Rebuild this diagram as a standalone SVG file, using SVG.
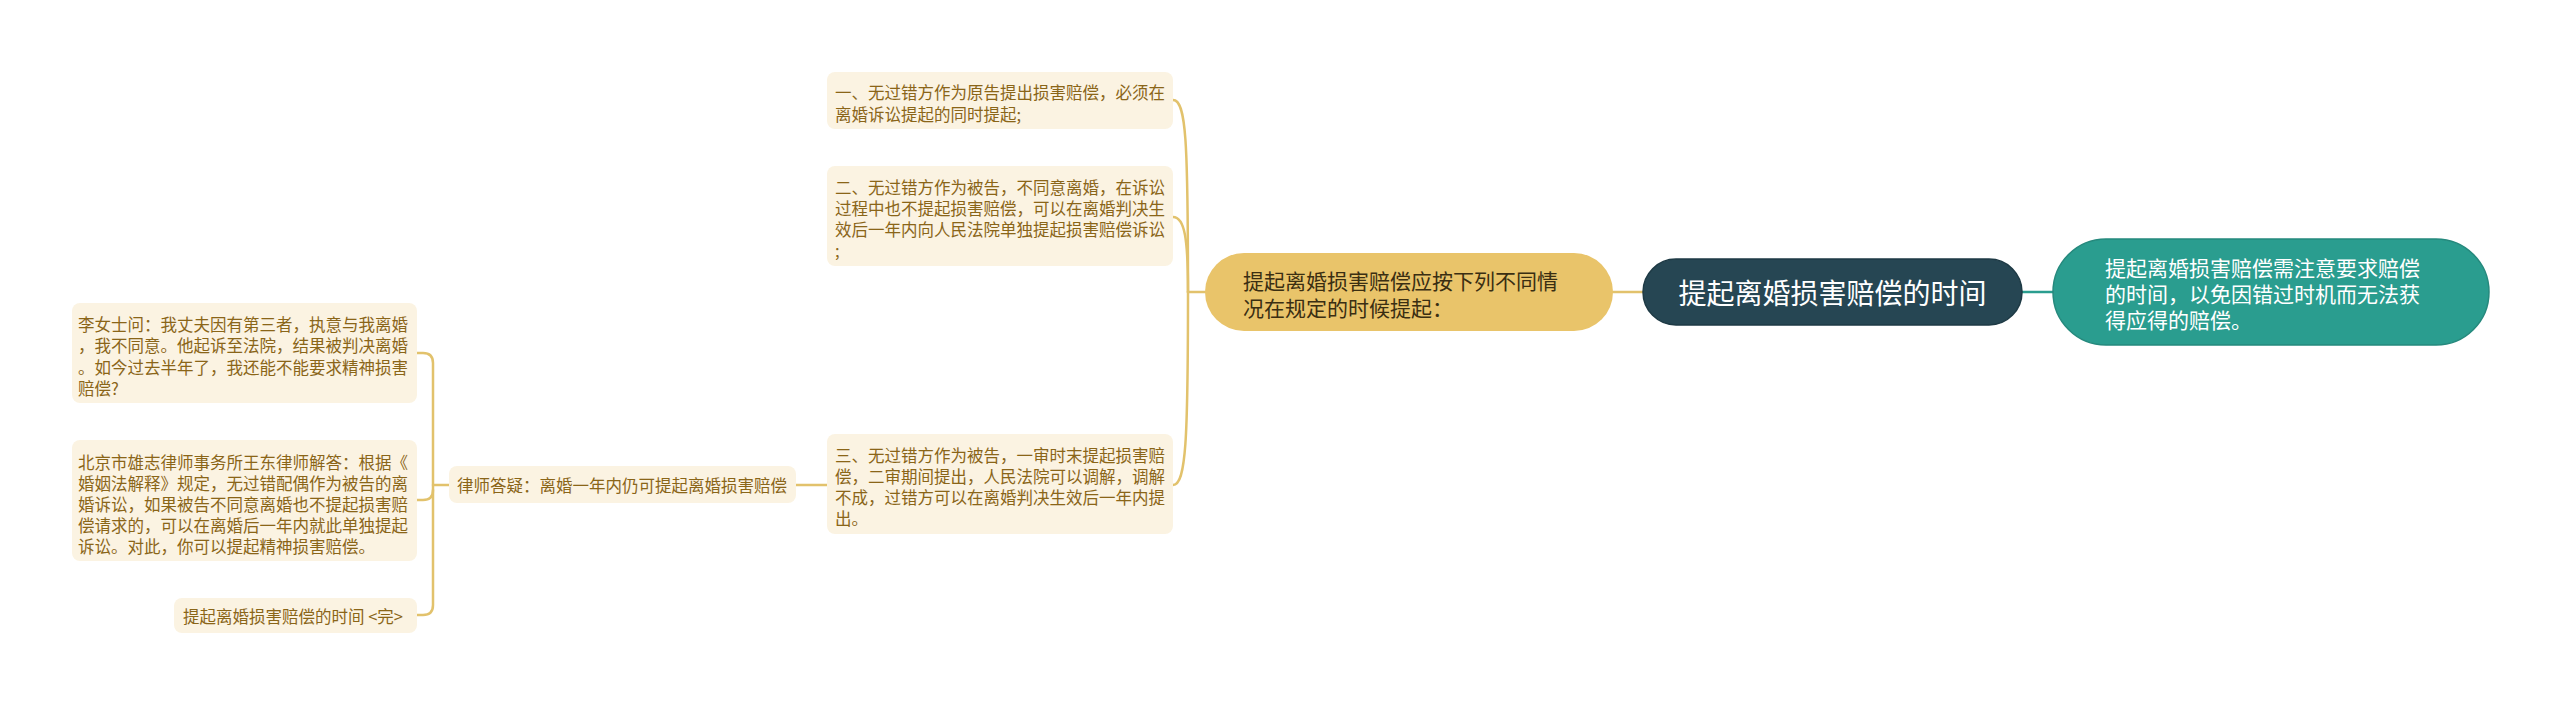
<svg xmlns="http://www.w3.org/2000/svg" width="2560" height="706" viewBox="0 0 2560 706">
<style>
.box{fill:#FBF3E2;}
.bt{font-family:"Noto Sans CJK SC","Noto Sans",sans-serif;font-size:16.5px;fill:#8A6518;dominant-baseline:central;}
.conn{fill:none;stroke:#E2C26C;stroke-width:2.5;stroke-linecap:round;}
</style>
<rect width="2560" height="706" fill="#ffffff"/>
<g id="connectors">
<path class="conn" d="M1613,292 L1643,292"/>
<path d="M2022,292 L2053,292" fill="none" stroke="#2A9D8F" stroke-width="2.5"/>
<path class="conn" d="M1205,292 L1188,292"/>
<path class="conn" d="M1173,100 C1186,100 1188,140 1188,292"/>
<path class="conn" d="M1173,217 C1185,217 1188,240 1188,292"/>
<path class="conn" d="M1173,485 C1186,485 1188,440 1188,292"/>
<path class="conn" d="M827,485 L796,485"/>
<path class="conn" d="M449,485 L433,485"/>
<path class="conn" d="M417,353 L423,353 Q433,353 433,363 L433,605 Q433,615 423,615 L417,615"/>
<path class="conn" d="M417,500 L423,500 Q433,500 433,490"/>
</g>
<g id="root">
<rect x="1643" y="259" width="379" height="66" rx="33" fill="#264653" stroke="#1E3A45" stroke-width="1.5"/>
<text x="1832.5" y="292" text-anchor="middle" font-family="Noto Sans CJK SC, sans-serif" font-size="28" fill="#ffffff" dominant-baseline="central">提起离婚损害赔偿的时间</text>
</g>
<g id="note">
<rect x="2053" y="239" width="436" height="106" rx="53" fill="#2A9D8F" stroke="#25897D" stroke-width="1.5"/>
<text font-family="Noto Sans CJK SC, sans-serif" font-size="21" fill="#ffffff" dominant-baseline="central"><tspan x="2105" y="267">提起离婚损害赔偿需注意要求赔偿</tspan><tspan x="2105" y="293">的时间，以免因错过时机而无法获</tspan><tspan x="2105" y="319">得应得的赔偿。</tspan></text>
</g>
<g id="main">
<rect x="1205" y="253" width="408" height="78" rx="39" fill="#E9C46A"/>
<text font-family="Noto Sans CJK SC, sans-serif" font-size="21" fill="#3A2E12" dominant-baseline="central"><tspan x="1243" y="280">提起离婚损害赔偿应按下列不同情</tspan><tspan x="1243" y="307">况在规定的时候提起：</tspan></text>
</g>
<g id="case1">
<rect class="box" x="827" y="72" width="346" height="57" rx="8"/>
<text class="bt"><tspan x="835" y="92">一、无过错方作为原告提出损害赔偿，必须在</tspan><tspan x="835" y="113.5">离婚诉讼提起的同时提起;</tspan></text>
</g>
<g id="case2">
<rect class="box" x="827" y="166" width="346" height="100" rx="8"/>
<text class="bt"><tspan x="835" y="187">二、无过错方作为被告，不同意离婚，在诉讼</tspan><tspan x="835" y="208">过程中也不提起损害赔偿，可以在离婚判决生</tspan><tspan x="835" y="229">效后一年内向人民法院单独提起损害赔偿诉讼</tspan><tspan x="835" y="250">;</tspan></text>
</g>
<g id="case3">
<rect class="box" x="827" y="434" width="346" height="100" rx="8"/>
<text class="bt"><tspan x="835" y="455">三、无过错方作为被告，一审时末提起损害赔</tspan><tspan x="835" y="476">偿，二审期间提出，人民法院可以调解，调解</tspan><tspan x="835" y="497">不成，过错方可以在离婚判决生效后一年内提</tspan><tspan x="835" y="518">出。</tspan></text>
</g>
<g id="qa">
<rect class="box" x="449" y="466" width="347" height="37" rx="8"/>
<text class="bt" x="457" y="485">律师答疑：离婚一年内仍可提起离婚损害赔偿</text>
</g>
<g id="question">
<rect class="box" x="72" y="303" width="345" height="100" rx="8"/>
<text class="bt"><tspan x="78" y="323.5">李女士问：我丈夫因有第三者，执意与我离婚</tspan><tspan x="78" y="345">，我不同意。他起诉至法院，结果被判决离婚</tspan><tspan x="78" y="366.5">。如今过去半年了，我还能不能要求精神损害</tspan><tspan x="78" y="388">赔偿?</tspan></text>
</g>
<g id="answer">
<rect class="box" x="72" y="440" width="345" height="121" rx="8"/>
<text class="bt"><tspan x="78" y="462">北京市雄志律师事务所王东律师解答：根据《</tspan><tspan x="78" y="483">婚姻法解释》规定，无过错配偶作为被告的离</tspan><tspan x="78" y="504">婚诉讼，如果被告不同意离婚也不提起损害赔</tspan><tspan x="78" y="525">偿请求的，可以在离婚后一年内就此单独提起</tspan><tspan x="78" y="546">诉讼。对此，你可以提起精神损害赔偿。</tspan></text>
</g>
<g id="end">
<rect class="box" x="174" y="598" width="243" height="35" rx="8"/>
<text class="bt" x="183" y="616">提起离婚损害赔偿的时间 &lt;完&gt;</text>
</g>
</svg>
